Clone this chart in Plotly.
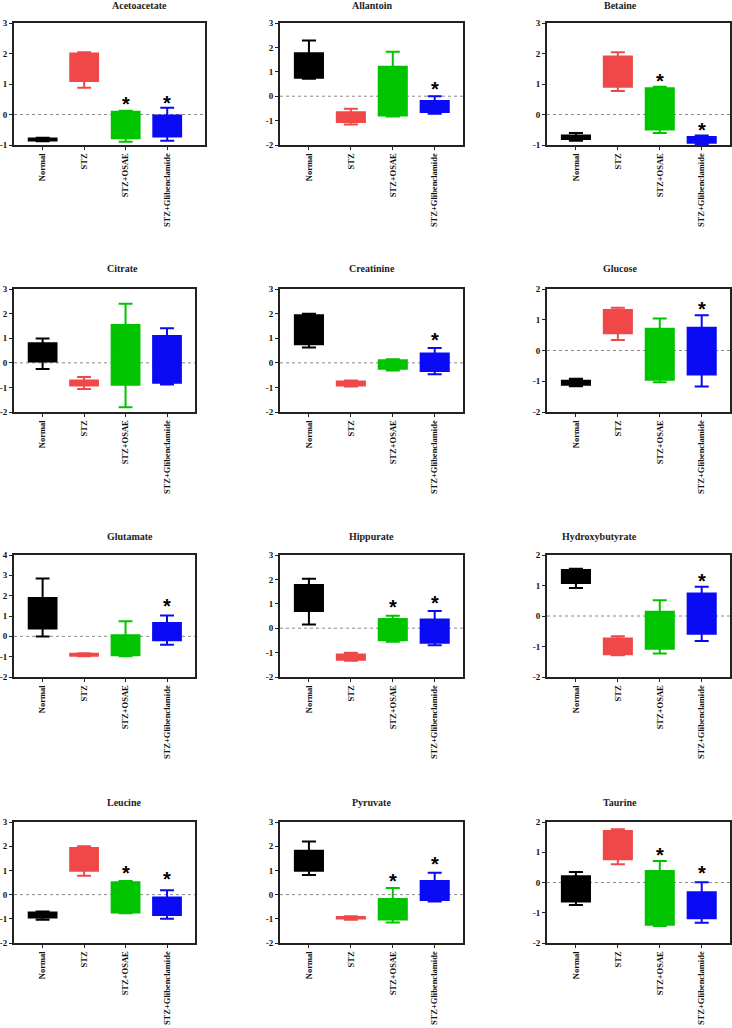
import plotly.graph_objects as go

groups = ["Normal", "STZ", "STZ+OSAE", "STZ+Glibenclamide"]
colors = ["#000000", "#f04848", "#00c400", "#0a0af5"]

metabolites = ["Acetoacetate", "Allantoin", "Betaine",
               "Citrate", "Creatinine", "Glucose",
               "Glutamate", "Hippurate", "Hydroxybutyrate",
               "Leucine", "Pyruvate", "Taurine"]

# Per metabolite: lower whisker, Q1, median, Q3, upper whisker (one value per group)
acetoacetate = [[-0.88, 0.88, -0.89, -0.86],
                [-0.85, 1.10, -0.78, -0.72],
                [-0.82, 1.50, -0.40, -0.40],
                [-0.79, 2.00, 0.09, -0.03],
                [-0.76, 2.04, 0.12, 0.22]]
allantoin = [[0.72, -1.16, -0.83, -0.72],
             [0.76, -1.06, -0.79, -0.65],
             [1.20, -0.85, 0.20, -0.40],
             [1.76, -0.66, 1.21, -0.20],
             [2.28, -0.51, 1.82, 0.00]]
betaine = [[-0.86, 0.77, -0.61, -0.99],
           [-0.80, 0.91, -0.49, -0.93],
           [-0.75, 1.40, 0.30, -0.83],
           [-0.69, 1.90, 0.86, -0.74],
           [-0.61, 2.04, 0.91, -0.69]]
citrate = [[-0.25, -1.07, -1.81, -0.88],
           [0.05, -0.92, -0.89, -0.81],
           [0.45, -0.82, 0.30, 0.10],
           [0.79, -0.72, 1.54, 1.09],
           [0.99, -0.58, 2.40, 1.40]]
creatinine = [[0.62, -0.96, -0.31, -0.47],
              [0.75, -0.92, -0.24, -0.33],
              [1.30, -0.84, -0.07, 0.00],
              [1.93, -0.76, 0.10, 0.38],
              [1.99, -0.72, 0.14, 0.60]]
glucose = [[-1.16, 0.34, -1.03, -1.17],
           [-1.11, 0.56, -0.95, -0.78],
           [-1.05, 0.95, -0.10, -0.02],
           [-0.98, 1.32, 0.71, 0.74],
           [-0.92, 1.39, 1.04, 1.15]]
glutamate = [[-0.01, -0.98, -0.98, -0.41],
             [0.38, -0.95, -0.93, -0.19],
             [1.10, -0.90, -0.45, 0.25],
             [1.89, -0.86, 0.05, 0.66],
             [2.85, -0.83, 0.74, 1.02]]
hippurate = [[0.15, -1.33, -0.56, -0.70],
             [0.70, -1.29, -0.49, -0.60],
             [1.20, -1.18, -0.05, -0.10],
             [1.77, -1.08, 0.38, 0.36],
             [2.03, -1.01, 0.51, 0.71]]
hydroxybutyrate = [[0.92, -1.29, -1.23, -0.82],
                   [1.08, -1.25, -1.07, -0.58],
                   [1.30, -1.00, -0.45, 0.10],
                   [1.51, -0.74, 0.14, 0.74],
                   [1.55, -0.66, 0.52, 0.96]]
leucine = [[-1.04, 0.78, -0.77, -1.00],
           [-0.95, 0.99, -0.74, -0.84],
           [-0.85, 1.45, -0.10, -0.48],
           [-0.74, 1.93, 0.51, -0.12],
           [-0.70, 2.00, 0.56, 0.18]]
pyruvate = [[0.81, -1.04, -1.15, -0.29],
            [0.99, -0.99, -1.03, -0.22],
            [1.40, -0.96, -0.60, 0.17],
            [1.81, -0.93, -0.18, 0.56],
            [2.19, -0.89, 0.27, 0.90]]
taurine = [[-0.74, 0.60, -1.44, -1.33],
           [-0.63, 0.77, -1.40, -1.18],
           [-0.21, 1.23, -0.50, -0.75],
           [0.21, 1.70, 0.38, -0.32],
           [0.35, 1.76, 0.71, 0.01]]

stats = [acetoacetate, allantoin, betaine, citrate, creatinine, glucose,
         glutamate, hippurate, hydroxybutyrate, leucine, pyruvate, taurine]

# Asterisk heights (None = no asterisk)
stars = [[None, None, 0.52, 0.55],
         [None, None, None, 0.49],
         [None, None, 1.26, -0.36],
         [None, None, None, None],
         [None, None, None, 1.13],
         [None, None, None, 1.51],
         [None, None, None, 1.75],
         [None, None, 1.08, 1.22],
         [None, None, None, 1.31],
         [None, None, 1.11, 0.86],
         [None, None, 0.78, 1.49],
         [None, None, 1.07, 0.47]]

y_ranges = [[-1, 3], [-2, 3], [-1, 3],
            [-2, 3], [-2, 3], [-2, 2],
            [-2, 4], [-2, 3], [-2, 2],
            [-2, 3], [-2, 3], [-2, 2]]

W, H = 732, 1028
col_px = [[14, 195], [280, 463], [547, 730]]
row_px = [[23, 145], [289, 412], [555, 677], [822, 943]]
title_px = [6, 269, 536, 802]

fig = go.Figure()
layout = dict(width=W, height=H, margin=dict(l=0, r=0, t=0, b=0, autoexpand=False),
              plot_bgcolor="white", paper_bgcolor="white",
              showlegend=False, boxmode="overlay")
annotations = []
shapes = []
tickfont = dict(family="Liberation Serif", size=9, color="#111", weight="bold")

for i, name in enumerate(metabolites):
    r, c = divmod(i, 3)
    n = i + 1
    xs = "" if n == 1 else str(n)
    x0, x1 = col_px[c]
    if i == 0:
        x1 = 205
    y0, y1 = row_px[r]
    xr = [-0.69, 3.91] if i == 0 else [-0.69, 3.675]
    lf, q1, med, q3, uf = stats[i]
    for g in range(4):
        fig.add_trace(go.Box(
            x=[groups[g]], q1=[q1[g]], median=[med[g]], q3=[q3[g]],
            lowerfence=[lf[g]], upperfence=[uf[g]],
            fillcolor=colors[g], line=dict(color=colors[g], width=2),
            width=0.67, whiskerwidth=0.5,
            xaxis="x" + xs, yaxis="y" + xs, hoverinfo="skip"))
        if stars[i][g] is not None:
            annotations.append(dict(x=groups[g], y=stars[i][g], xref="x" + xs, yref="y" + xs,
                                    text="<b>*</b>", showarrow=False, yshift=-5,
                                    font=dict(family="Liberation Sans", size=20, color="black")))
    ylo, yhi = y_ranges[i]
    yticks = list(range(ylo, yhi + 1))
    layout["xaxis" + xs] = dict(domain=[x0 / W, x1 / W], anchor="y" + xs, automargin=False,
                                type="category", categoryorder="array", categoryarray=groups,
                                range=xr, showline=True, mirror=True, linecolor="#222",
                                linewidth=1.8, showgrid=False, ticks="outside", ticklen=3,
                                tickwidth=1.2, tickcolor="#222", tickangle=-90,
                                tickfont=dict(family="Liberation Serif", size=8.5, color="#111", weight="bold"))
    layout["yaxis" + xs] = dict(domain=[1 - y1 / H, 1 - y0 / H], anchor="x" + xs, automargin=False,
                                range=y_ranges[i], tickvals=yticks, ticktext=[str(t) for t in yticks],
                                showline=True, mirror=True,
                                linecolor="#222", linewidth=1.8, showgrid=False, zeroline=False,
                                ticks="outside", ticklen=3, tickwidth=1.2, tickcolor="#222",
                                tickfont=tickfont)
    shapes.append(dict(type="line", xref="x" + xs + " domain", yref="y" + xs,
                       x0=0, x1=1, y0=0, y1=0, layer="below",
                       line=dict(color="#8a8a8a", width=1, dash="dot")))
    annotations.append(dict(x=(x0 + x1) / 2 / W, y=1 - title_px[r] / H, xref="paper", yref="paper",
                            text=name, showarrow=False, yanchor="middle",
                            font=dict(family="Liberation Serif", size=10, color="#222", weight="bold")))

layout["annotations"] = annotations
layout["shapes"] = shapes
fig.update_layout(**layout)
fig.write_html("out.html", config={"displayModeBar": False},
               post_script="document.body.style.margin='0';")
